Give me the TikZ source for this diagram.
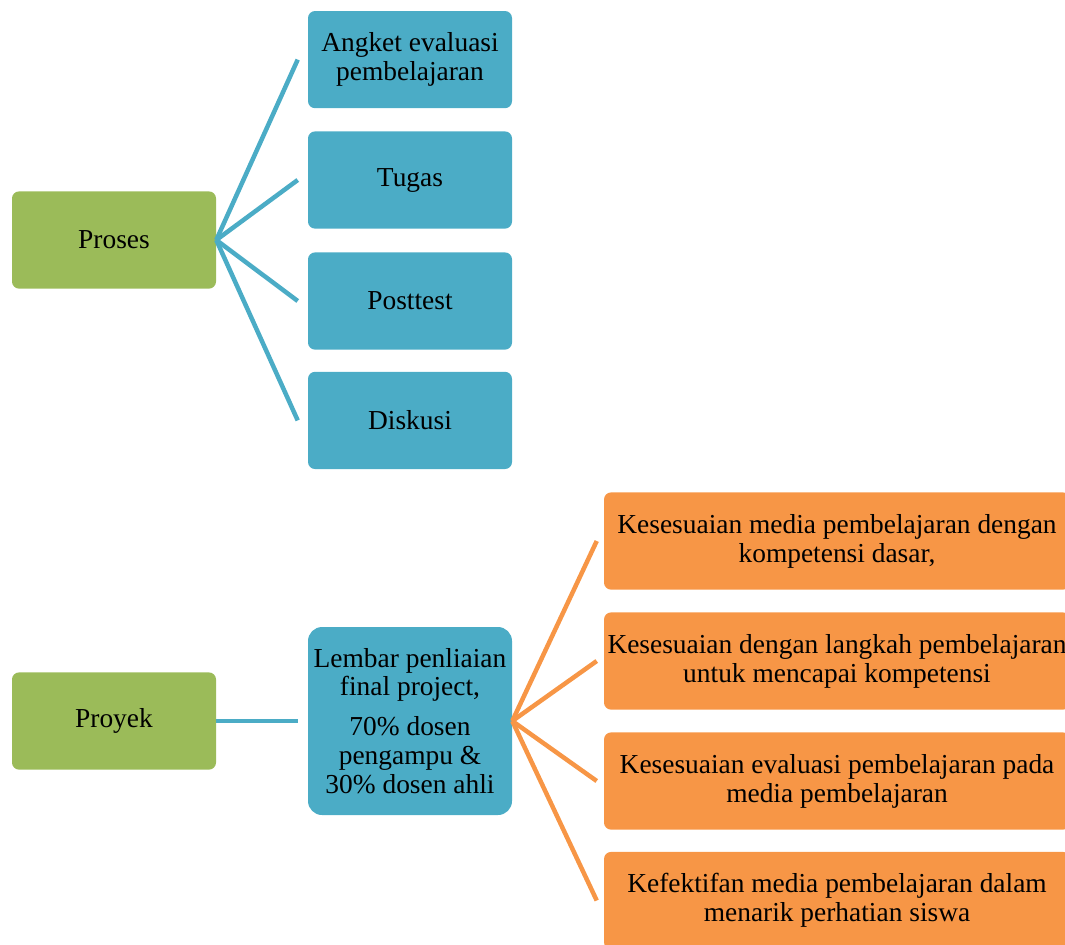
\documentclass[tikz,border=0pt]{standalone}
\usepackage{fontspec}
\setmainfont{Liberation Serif}
\definecolor{hijau}{HTML}{9BBB59}
\definecolor{biru}{HTML}{4BACC6}
\definecolor{oranye}{HTML}{F79646}
\tikzset{
  kotak/.style={rounded corners=5pt, minimum height=2.43cm, align=center, inner sep=2pt,
    font=\fontsize{19.5}{20.5}\selectfont},
  kotakhijau/.style={kotak, fill=hijau, minimum width=5.1cm},
  kotakbiru/.style={kotak, fill=biru, minimum width=5.1cm},
  kotakoranye/.style={kotak, fill=oranye, minimum width=11.65cm},
  garisbiru/.style={biru, line width=3.2pt},
  garisoranye/.style={oranye, line width=3.2pt}
}
\begin{document}
\begin{tikzpicture}
\clip (0,0) rectangle (26.625,-23.6);
% proses
\node[kotakhijau] (proses) at (2.85,-6) {Proses};
\node[kotakbiru] (angket) at (10.25,-1.49) {Angket evaluasi\\pembelajaran};
\node[kotakbiru] (tugas) at (10.25,-4.5) {Tugas};
\node[kotakbiru] (posttest) at (10.25,-7.525) {Posttest};
\node[kotakbiru] (diskusi) at (10.25,-10.51) {Diskusi};
\draw[garisbiru] (proses.east) -- ([xshift=-0.25cm]angket.west);
\draw[garisbiru] (proses.east) -- ([xshift=-0.25cm]tugas.west);
\draw[garisbiru] (proses.east) -- ([xshift=-0.25cm]posttest.west);
\draw[garisbiru] (proses.east) -- ([xshift=-0.25cm]diskusi.west);
% proyek
\node[kotakhijau] (proyek) at (2.85,-18.025) {Proyek};
\node[kotakbiru, minimum height=4.7cm, rounded corners=10pt] (lembar) at (10.25,-18.025)
  {Lembar penliaian\\final project,\\[8pt]70\% dosen\\pengampu \&\\30\% dosen ahli};
\draw[garisbiru] (proyek.east) -- ([xshift=-0.25cm]lembar.west);
\node[kotakoranye] (media) at (20.925,-13.525) {Kesesuaian media pembelajaran dengan\\kompetensi dasar,};
\node[kotakoranye] (langkah) at (20.925,-16.525) {Kesesuaian dengan langkah pembelajaran\\untuk mencapai kompetensi};
\node[kotakoranye] (evaluasi) at (20.925,-19.525) {Kesesuaian evaluasi pembelajaran pada\\media pembelajaran};
\node[kotakoranye] (efektif) at (20.925,-22.5125) {Kefektifan media pembelajaran dalam\\menarik perhatian siswa};
\draw[garisoranye] (lembar.east) -- ([xshift=-0.175cm]media.west);
\draw[garisoranye] (lembar.east) -- ([xshift=-0.175cm]langkah.west);
\draw[garisoranye] (lembar.east) -- ([xshift=-0.175cm]evaluasi.west);
\draw[garisoranye] (lembar.east) -- ([xshift=-0.175cm]efektif.west);
\end{tikzpicture}
\end{document}
